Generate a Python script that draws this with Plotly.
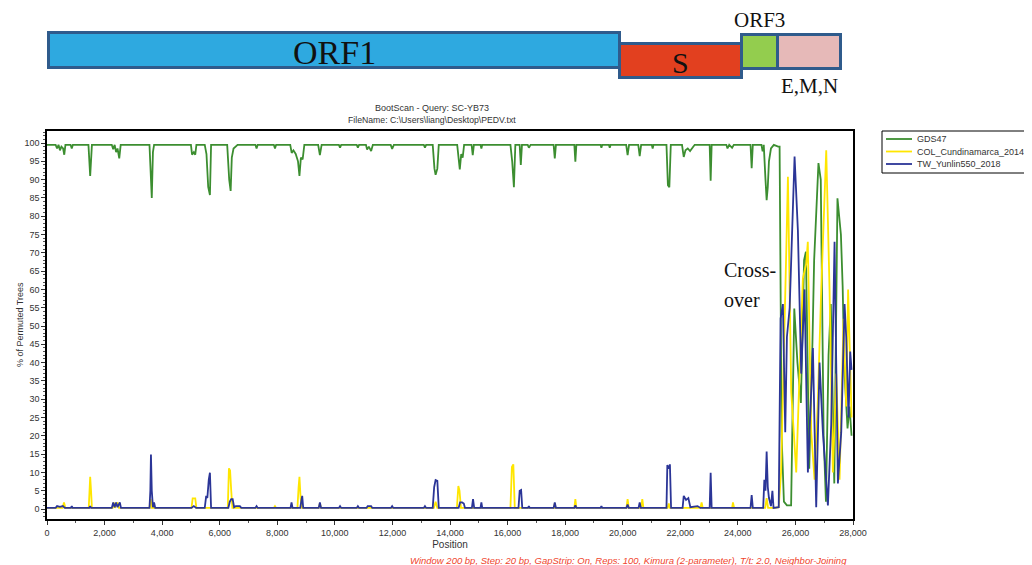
import plotly.graph_objects as go

# ---------------- data ----------------
series_names = ["GDS47", "COL_Cundinamarca_2014", "TW_Yunlin550_2018"]

gds47_pos = [0, 300, 350, 400, 450, 500, 560, 600, 640,
             820, 860, 900,
             1440, 1500, 1560,
             2250, 2300, 2350, 2400, 2450, 2510, 2560,
             3560, 3600, 3640, 3680, 3720,
             5000, 5040, 5100, 5150, 5190,
             5480, 5540, 5600, 5660, 5700,
             6260, 6330, 6380, 6420, 6480, 6560, 6620,
             7240, 7280, 7320,
             7880, 7920, 7960,
             8450, 8500, 8560, 8640, 8720, 8770, 8820, 8880, 8940,
             9420, 9480, 9540,
             10140, 10180, 10220,
             10760, 10800, 10840,
             11080, 11120, 11180, 11260, 11320,
             11940, 11990, 12050,
             13090, 13130, 13170,
             13400, 13460, 13500, 13560, 13610,
             14250, 14300, 14340, 14390, 14440, 14490,
             14750, 14790, 14830,
             15060, 15090, 15120,
             16100, 16160, 16220, 16270, 16420, 16460, 16500,
             16700, 16740, 16800,
             17600, 17640, 17680,
             18320, 18355, 18390,
             19230, 19260, 19290,
             19520, 19550, 19580,
             20120, 20170, 20220,
             20540, 20590, 20640,
             21010, 21040, 21070,
             21520, 21570, 21620, 21670,
             22060, 22120, 22180, 22260, 22340, 22420, 22500,
             23020, 23055, 23090,
             23600, 23640, 23700, 23800, 23860,
             24440, 24480, 24520, 24820, 24860, 24900, 24960, 25000, 25040,
             25080, 25150, 25250, 25400,
             25450, 25520, 25600, 25704, 25850, 25960, 26070, 26190, 26300,
             26364, 26480, 26590, 26650, 26800, 26880, 26980, 27060, 27150,
             27230, 27350, 27460, 27580, 27640, 27700, 27810, 27880, 27950]
gds47_val = [99.5, 99.5, 98.5, 99.5, 98.0, 99.0, 98.5, 96.8, 99.5,
             99.5, 98.5, 99.5,
             99.5, 91.0, 99.5,
             99.5, 98.3, 99.5, 97.5, 98.5, 95.8, 99.5,
             99.5, 90.0, 85.0, 97.5, 99.5,
             99.5, 96.8, 97.5, 96.8, 99.5,
             99.5, 97.0, 88.0, 85.8, 99.5,
             99.5, 90.0, 86.9, 96.0, 98.5, 99.0, 99.5,
             99.5, 98.5, 99.5,
             99.5, 98.5, 99.5,
             99.5, 97.3, 98.0, 97.0, 95.0, 91.0, 96.0, 95.5, 99.5,
             99.5, 96.7, 99.5,
             99.5, 98.7, 99.5,
             99.5, 98.7, 99.5,
             99.5, 98.2, 99.0, 97.8, 99.5,
             99.5, 98.4, 99.5,
             99.5, 98.7, 99.5,
             99.5, 93.0, 91.3, 93.0, 99.5,
             99.5, 95.0, 92.8, 97.0, 96.0, 99.5,
             99.5, 96.7, 99.5,
             99.5, 98.5, 99.5,
             99.5, 95.0, 87.9, 99.5, 99.5, 94.0, 99.5,
             99.5, 98.7, 99.5,
             99.5, 95.8, 99.5,
             99.5, 94.9, 99.5,
             99.5, 98.7, 99.5,
             99.5, 98.7, 99.5,
             99.5, 96.7, 99.5,
             99.5, 96.4, 99.5,
             99.5, 98.5, 99.5,
             99.5, 88.5, 87.9, 99.5,
             99.5, 96.2, 98.0, 98.5, 97.8, 98.8, 99.5,
             99.5, 89.7, 99.5,
             99.5, 98.5, 99.5, 98.7, 99.5,
             99.5, 93.1, 99.5, 99.5, 97.7, 99.5, 90.0, 84.4, 88.0,
             95.0, 98.5, 99.5, 99.0,
             99.0, 20.0, 2.0, 1.0, 1.0, 54.8, 40.0, 29.0, 68.0,
             70.3, 11.0, 45.0, 68.0, 94.5, 90.0, 20.0, 2.0, 42.0,
             56.0, 7.0, 84.9, 75.0, 61.0, 38.0, 22.0, 28.0, 20.0]

col_pos = [0, 540, 590, 640,
           1450, 1480, 1500, 1530, 1560,
           2280, 2320, 2360, 2450, 2500,
           3560, 3600, 3640,
           5020, 5060, 5100, 5150, 5190,
           6280, 6320, 6360, 6400, 6440,
           7880, 7920, 7960,
           8700, 8740, 8770, 8810, 8850,
           9440, 9480, 9520,
           13440, 13500, 13560,
           14240, 14290, 14330, 14380,
           16100, 16150, 16200, 16250,
           17610, 17640, 17670,
           18320, 18355, 18390,
           20130, 20170, 20210,
           20640, 20680, 20720,
           21560, 21600, 21640,
           22700, 22740, 22780,
           23800, 23830, 23870,
           24950, 25000, 25050,
           25300, 25420,
           25500, 25600, 25680, 25739, 25800, 25854, 25950, 26028, 26143,
           26259, 26375, 26430, 26549, 26664, 26780, 26896, 27070, 27185,
           27301, 27417, 27533, 27672, 27764, 27830, 27900, 27950]
col_val = [0.3, 0.3, 1.8, 0.3,
           0.3, 6.0, 8.8, 5.0, 0.3,
           0.3, 1.8, 0.3, 1.8, 0.3,
           0.3, 2.7, 0.3,
           0.3, 2.9, 2.9, 2.9, 0.3,
           0.3, 11.1, 10.5, 5.0, 0.3,
           0.3, 0.8, 0.3,
           0.3, 6.0, 8.8, 3.0, 0.3,
           0.3, 1.5, 0.3,
           0.3, 2.0, 0.3,
           0.3, 6.3, 5.0, 0.3,
           0.3, 11.5, 12.2, 0.3,
           0.3, 1.5, 0.3,
           0.3, 2.7, 0.3,
           0.3, 2.7, 0.3,
           0.3, 2.7, 0.3,
           0.3, 1.5, 0.3,
           0.3, 1.8, 0.3,
           0.3, 1.8, 0.3,
           0.3, 3.0, 0.3,
           0.3, 0.5,
           10.0, 40.0, 70.0, 90.8, 60.0, 32.0, 20.0, 10.0, 37.0,
           63.0, 67.0, 73.0, 21.0, 8.0, 30.0, 60.0, 98.0, 60.0,
           10.0, 37.0, 8.0, 52.0, 28.0, 60.0, 40.0, 25.0]

tw_pos = [0, 300, 350, 450, 550, 620,
          830, 860, 890,
          1470, 1500, 1530,
          2250, 2300, 2350, 2400, 2450, 2530, 2570,
          3560, 3590, 3611, 3640, 3680, 3720, 3760,
          5020, 5100, 5180,
          5480, 5530, 5570, 5620, 5660, 5700,
          6300, 6350, 6400, 6450, 6500, 6560, 6700, 6750,
          7240, 7280, 7320,
          8460, 8495, 8530,
          8800, 8840, 8866, 8900,
          9440, 9480, 9520,
          10140, 10180, 10220,
          10760, 10800, 10840,
          11100, 11140, 11260, 11300,
          11950, 11990, 12030,
          13090, 13130, 13170,
          13400, 13450, 13500, 13560, 13610,
          14300, 14350, 14420, 14480, 14520,
          14760, 14800, 14840,
          15060, 15090, 15120,
          16380, 16420, 16470, 16510,
          16710, 16740, 16770,
          17600, 17640, 17680,
          18320, 18355, 18390,
          19230, 19260, 19290,
          20130, 20170, 20210,
          20550, 20590, 20630,
          21520, 21550, 21600, 21640, 21680,
          22080, 22120, 22200, 22280, 22350, 22600, 22700,
          23020, 23055, 23090,
          24440, 24480, 24520,
          24880, 24920, 24960, 25000, 25040, 25080, 25150, 25200, 25240, 25420,
          25484, 25565, 25646, 25704, 25800, 25970, 26086, 26201, 26317,
          26433, 26607, 26722, 26838, 26954, 27128, 27243, 27359, 27475,
          27591, 27707, 27764, 27845, 27903, 27950]
tw_val = [0.3, 0.3, 0.8, 0.6, 0.8, 0.3,
          0.3, 0.8, 0.3,
          0.3, 0.8, 0.3,
          0.3, 1.8, 0.5, 1.8, 0.5, 1.8, 0.3,
          0.3, 5.0, 14.9, 5.0, 0.5, 1.8, 0.3,
          0.3, 0.8, 0.3,
          0.3, 3.6, 3.0, 8.0, 9.9, 0.3,
          0.3, 2.0, 2.7, 2.7, 0.5, 0.8, 0.8, 0.3,
          0.3, 0.8, 0.3,
          0.3, 1.8, 0.3,
          0.3, 2.5, 3.6, 0.3,
          0.3, 1.8, 0.3,
          0.3, 0.8, 0.3,
          0.3, 0.8, 0.3,
          0.3, 0.8, 0.8, 0.3,
          0.3, 0.8, 0.3,
          0.3, 0.8, 0.3,
          0.3, 6.0, 7.9, 7.7, 0.3,
          0.3, 1.8, 1.8, 1.5, 0.3,
          0.3, 2.7, 0.3,
          0.3, 1.8, 0.3,
          0.3, 5.0, 5.2, 0.3,
          0.3, 0.8, 0.3,
          0.3, 1.8, 0.3,
          0.3, 1.0, 0.3,
          0.3, 0.8, 0.3,
          0.3, 1.2, 0.3,
          0.3, 1.8, 0.3,
          0.3, 12.0, 11.0, 12.2, 0.3,
          0.3, 3.6, 2.5, 3.0, 0.5, 0.8, 0.3,
          0.3, 9.9, 0.3,
          0.3, 3.8, 0.3,
          0.3, 8.0, 5.0, 15.7, 6.0, 3.0, 0.8, 5.0, 0.3, 0.5,
          52.0, 56.0, 21.0, 47.0, 55.0, 96.3, 76.0, 37.0, 60.0,
          10.0, 44.0, 0.5, 40.0, 21.0, 1.0, 23.0, 73.0, 7.0,
          21.0, 56.0, 47.0, 25.0, 43.0, 38.0]

gene_names = ["ORF1", "S", "ORF3", "E,M,N"]
gene_start = [70, 19900, 24130, 25380]
gene_end = [19900, 24130, 25380, 27570]

x_ticks = list(range(0, 28001, 2000))
caption = ("Window 200 bp, Step: 20 bp, GapStrip: On, Reps: 100, "
           "Kimura (2-parameter), T/t: 2.0, Neighbor-Joining")

# ---------------- styles ----------------
W, H = 1032, 565
OFF = 8  # page body margin of the rendered html
series_colors = ["#3C8E30", "#FFE600", "#2B3597"]
gene_colors = ["#2EA9E0", "#E2401F", "#93CD4E", "#E6B9B8"]
gene_border = "#2F5B8C"
gene_lane = {"ORF1": (50.5, 35), "S": (60.5, 34), "ORF3": (52.0, 34), "E,M,N": (52.0, 34)}
gene_label = {"ORF1": (52, 34), "S": (62, 30), "ORF3": (20, 21), "E,M,N": (86, 21)}
SANS = "Liberation Sans, Arial, sans-serif"
SERIF = "Liberation Serif, Times New Roman, serif"
TXT = "#333333"
LW = 1.8


def px_x(p):
    return (p - OFF) / W


def px_y(p):
    return 1 - (p - OFF) / H


fig = go.Figure()

for name, xs, ys, col in zip(series_names,
                             [gds47_pos, col_pos, tw_pos],
                             [gds47_val, col_val, tw_val],
                             series_colors):
    fig.add_trace(go.Scatter(x=xs, y=ys, mode="lines", name=name,
                             line=dict(color=col, width=LW),
                             xaxis="x", yaxis="y", showlegend=False))

lengths = [e - s for s, e in zip(gene_start, gene_end)]
fig.add_trace(go.Bar(
    x=lengths, base=gene_start,
    y=[gene_lane[g][0] for g in gene_names],
    width=[gene_lane[g][1] for g in gene_names],
    orientation="h",
    marker=dict(color=gene_colors, line=dict(color=gene_border, width=3)),
    xaxis="x2", yaxis="y2", showlegend=False, hoverinfo="skip"))

annotations = []
for g, s, e in zip(gene_names, gene_start, gene_end):
    ly, fs = gene_label[g]
    annotations.append(dict(x=(s + e) / 2, y=ly, xref="x2", yref="y2",
                            text=g, showarrow=False,
                            font=dict(family=SERIF, size=fs, color="#111111"),
                            xanchor="center", yanchor="middle"))

# Cross-over note
annotations.append(dict(x=23450, y=65.3, xref="x", yref="y", text="Cross-",
                        showarrow=False, xanchor="left", yanchor="middle",
                        font=dict(family=SERIF, size=20, color="#111111")))
annotations.append(dict(x=23450, y=57.1, xref="x", yref="y", text="over",
                        showarrow=False, xanchor="left", yanchor="middle",
                        font=dict(family=SERIF, size=20, color="#111111")))

# titles
annotations.append(dict(x=px_x(432), y=px_y(108), xref="paper", yref="paper",
                        text="BootScan - Query: SC-YB73", showarrow=False,
                        font=dict(family=SANS, size=9, color=TXT),
                        xanchor="center", yanchor="middle"))
annotations.append(dict(x=px_x(432), y=px_y(120), xref="paper", yref="paper",
                        text="FileName: C:\\Users\\liang\\Desktop\\PEDV.txt",
                        showarrow=False,
                        font=dict(family=SANS, size=8.7, color=TXT),
                        xanchor="center", yanchor="middle"))
annotations.append(dict(x=px_x(849), y=px_y(560), xref="paper", yref="paper",
                        text="<i>" + caption + "</i>", showarrow=False,
                        font=dict(family=SANS, size=9.5, color="#F0442C"),
                        xanchor="right", yanchor="middle"))
# y-axis title
annotations.append(dict(x=px_x(20), y=px_y(325), xref="paper", yref="paper",
                        text="% of Permuted Trees", showarrow=False,
                        textangle=-90,
                        font=dict(family=SANS, size=9, color=TXT),
                        xanchor="center", yanchor="middle"))

# manual legend
shapes = [dict(type="rect", xref="paper", yref="paper",
               x0=px_x(882), x1=px_x(1030), y0=px_y(173), y1=px_y(131),
               line=dict(color="#000000", width=1), fillcolor="white")]
for i, (name, col) in enumerate(zip(series_names, series_colors)):
    yy = 139 + i * 12.5
    shapes.append(dict(type="line", xref="paper", yref="paper",
                       x0=px_x(886), x1=px_x(912), y0=px_y(yy), y1=px_y(yy),
                       line=dict(color=col, width=LW)))
    annotations.append(dict(x=px_x(915), y=px_y(yy), xref="paper", yref="paper",
                            text=name, showarrow=False,
                            font=dict(family=SANS, size=9, color=TXT),
                            xanchor="left", yanchor="middle"))

fig.update_layout(
    width=W, height=H,
    margin=dict(l=0, r=0, t=0, b=0),
    paper_bgcolor="#FFFFFF", plot_bgcolor="#FFFFFF",
    showlegend=False,
    bargap=0,
    xaxis=dict(domain=[px_x(47), px_x(853)], range=[0, 28000],
               tickvals=x_ticks, tickformat=",d",
               ticks="outside", ticklen=4, tickcolor="#333333",
               tickfont=dict(family=SANS, size=9, color=TXT),
               showline=True, linecolor="#000000", linewidth=1.5, mirror=True,
               showgrid=False, zeroline=False,
               minor=dict(dtick=1000, tick0=0, ticks="outside", ticklen=2,
                          tickcolor="#555555"),
               title=dict(text="Position", standoff=4,
                          font=dict(family=SANS, size=10, color=TXT)),
               automargin=False, anchor="y"),
    yaxis=dict(domain=[px_y(519), px_y(131)], range=[-2.73, 103.28],
               tick0=0, dtick=5,
               ticks="outside", ticklen=4, tickcolor="#333333",
               tickfont=dict(family=SANS, size=9, color=TXT),
               showline=True, linecolor="#000000", linewidth=1.5, mirror=True,
               showgrid=False, zeroline=False,
               minor=dict(dtick=1, ticks="outside", ticklen=2,
                          tickcolor="#555555"),
               automargin=False, anchor="x"),
    xaxis2=dict(domain=[px_x(47), px_x(853)], range=[0, 28000],
                matches="x", visible=False, anchor="y2"),
    yaxis2=dict(domain=[px_y(100), 1], range=[100, OFF], visible=False,
                anchor="x2"),
    annotations=annotations,
    shapes=shapes,
)

fig.write_html("out.html")
